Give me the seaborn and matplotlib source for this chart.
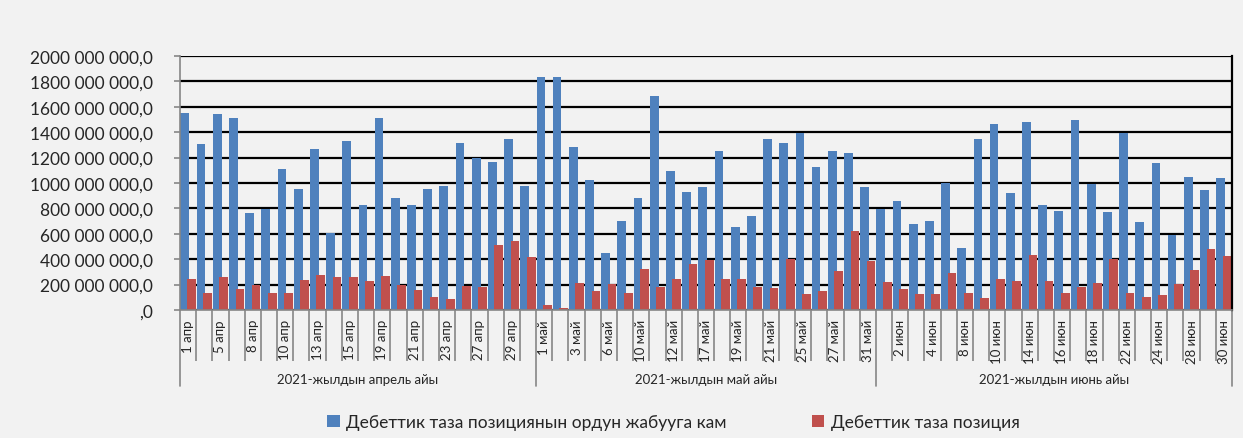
import numpy as np
import pandas as pd
import matplotlib
matplotlib.use("Agg")
import matplotlib.pyplot as plt
import matplotlib.transforms as mtransforms
import seaborn as sns

# dates shown on the category axis (working days), April / May / June 2021
apr_days = [1, 2, 5, 6, 8, 9, 10, 12, 13, 14, 15, 16, 19, 20, 21, 22, 23, 26, 27, 28, 29, 30]
may_days = [1, 2, 3, 5, 6, 7, 10, 11, 12, 14, 17, 18, 19, 20, 21, 24, 25, 26, 27, 28, 31]
jun_days = [1, 2, 3, 4, 7, 8, 9, 10, 11, 14, 15, 16, 17, 18, 21, 22, 23, 24, 25, 28, 29, 30]

groups = ["2021-жылдын апрель айы", "2021-жылдын май айы", "2021-жылдын июнь айы"]
series = ["Дебеттик таза позициянын ордун жабууга кам", "Дебеттик таза позиция"]

# values, millions of som
apr_cover = [1549, 1307, 1543, 1514, 761, 798, 1108, 955, 1265, 604, 1328,
             827, 1514, 885, 827, 955, 976, 1312, 1199, 1168, 1344, 976]
apr_net = [247, 131, 260, 168, 197, 136, 131, 239, 276, 260, 260,
           231, 268, 197, 155, 102, 89, 189, 184, 512, 541, 417]
may_cover = [1837, 1837, 1286, 1026, 446, 698, 885, 1685, 1092, 927, 971,
             1249, 654, 740, 1349, 1312, 1391, 1129, 1249, 1234, 971]
may_net = [37, 18, 210, 152, 202, 131, 325, 184, 247, 360, 391,
           247, 247, 184, 176, 399, 123, 152, 304, 619, 383]
jun_cover = [793, 861, 677, 703, 1003, 488, 1349, 1465, 919, 1480, 827,
             777, 1499, 990, 769, 1391, 690, 1155, 588, 1050, 948, 1042]
jun_net = [223, 168, 123, 123, 289, 136, 94, 247, 231, 430, 231,
           136, 181, 210, 399, 131, 102, 115, 202, 318, 483, 425]

labels = ([f"{d} апр" for d in apr_days] + [f"{d} май" for d in may_days]
          + [f"{d} июн" for d in jun_days])
cover = apr_cover + may_cover + jun_cover
net = apr_net + may_net + jun_net
sizes = [len(apr_days), len(may_days), len(jun_days)]

df = pd.DataFrame({
    "date": labels * 2,
    "series": [series[0]] * len(labels) + [series[1]] * len(labels),
    "value": np.array(cover + net, dtype=float) * 1e6,
})

bg = "#F2F2F2"
blue, red = "#4F81BD", "#C0504D"
sns.set_theme(style="white")
plt.rcParams["font.family"] = ["Lato", "DejaVu Sans"]

fig = plt.figure(figsize=(12.43, 4.39), dpi=100, facecolor=bg)
ax = fig.add_axes([180 / 1243, 128 / 439, 1052 / 1243, 254 / 439])
ax.set_facecolor(bg)

sns.barplot(data=df, x="date", y="value", hue="series", order=labels,
            hue_order=series, palette=[blue, red], width=0.94,
            linewidth=0, saturation=1, ax=ax)

# Excel-style overlap: the two bars of a day slightly overlap
for cont, shift in zip(ax.containers, (-0.2, 0.2)):
    for i, p in enumerate(cont.patches):
        p.set_width(0.54)
        p.set_x(i + shift - 0.27)

n = len(labels)
ax.set_xlim(-0.5, n - 0.5)
ax.set_ylim(0, 2e9)
yt = np.arange(0, 2001, 200)
ax.set_yticks(yt * 1e6)
ax.set_yticklabels([",0" if v == 0 else f"{v} 000 000,0" for v in yt], fontsize=12.5)
ax.yaxis.grid(True, color="black", lw=1.6)
ax.set_axisbelow(True)
ax.tick_params(axis="y", length=4.5, width=1.2, color="#868686", pad=15, left=True)

ax.set_xticks(range(0, n, 2))
ax.set_xticklabels(labels[0::2], rotation=90, fontsize=9.5)
ax.tick_params(axis="x", length=0, pad=6.5)
bounds = np.cumsum([0] + sizes) - 0.5
minor = [b for b in np.arange(-0.5, n, 1) if b not in bounds]
ax.set_xticks(minor, minor=True)
ax.tick_params(axis="x", which="minor", length=37, width=1.2, color="#868686", bottom=True)
ax.set_xlabel("")
ax.set_ylabel("")

trans = mtransforms.blended_transform_factory(ax.transData, ax.transAxes)
for b in bounds:
    ax.plot([b, b], [0, -0.30], color="#868686", lw=1.2, transform=trans, clip_on=False)
for g, lo, hi in zip(groups, bounds[:-1], bounds[1:]):
    ax.text((lo + hi) / 2, -0.27, g, transform=trans, ha="center", va="center", fontsize=9.5)

for side in ("left", "bottom"):
    ax.spines[side].set_color("#868686")
    ax.spines[side].set_linewidth(1.2)
ax.spines["right"].set_color("black")
ax.spines["right"].set_linewidth(1.6)
ax.spines["top"].set_visible(False)

sns.move_legend(ax, "center", bbox_to_anchor=(0.542, 0.036), bbox_transform=fig.transFigure,
                ncol=2, frameon=False, title=None, fontsize=12.5, handlelength=0.7,
                handleheight=0.7, handletextpad=0.4, columnspacing=4.9)

fig.savefig("out.png", dpi=100, facecolor=bg)
